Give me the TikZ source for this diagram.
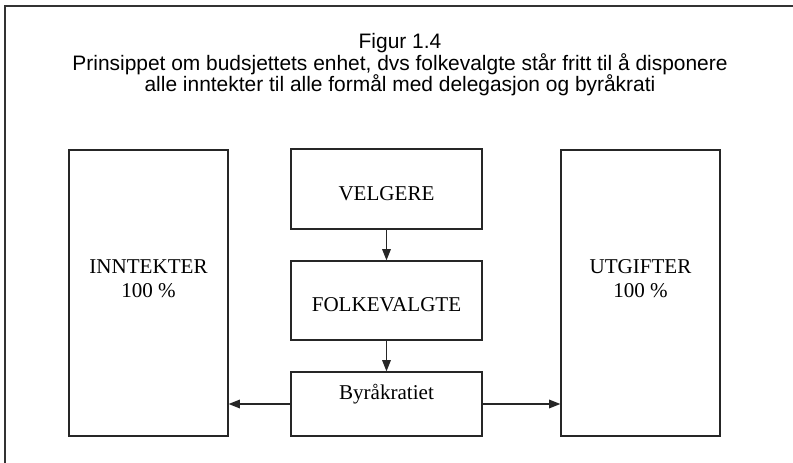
\documentclass[tikz,border=0pt]{standalone}
\usepackage{fontspec}
\setmainfont{Liberation Serif}
\newfontfamily\titlefont{Liberation Sans}
\usetikzlibrary{arrows.meta}
\begin{document}
\begin{tikzpicture}[x=0.75pt,y=-0.75pt,
  frame/.style={draw=black!80,line width=0.9pt},
  block/.style={draw=black!85,line width=0.9pt,inner sep=0pt,fill=none},
  label/.style={anchor=base,inner sep=0pt,font=\fontsize{15.8pt}{19pt}\selectfont},
  heading/.style={anchor=base,inner sep=0pt,font=\titlefont\fontsize{15.7pt}{18pt}\selectfont},
  flow/.style={draw=black!85,line width=0.9pt,-{Triangle[length=8.5pt,width=6.5pt]}}]
\useasboundingbox (0,0) rectangle (793,463);

% outer frame (top and left edges)
\draw[frame] (5,470) -- (5,6) -- (800,6);

% heading
\node[heading] (t1) at (400,49) {Figur 1.4};
\node[heading] (t2) at (400,71) {Prinsippet om budsjettets enhet, dvs folkevalgte står fritt til å disponere};
\node[heading] (t3) at (400,92) {alle inntekter til alle formål med delegasjon og byråkrati};

% side blocks
\node[block,minimum width=119.25pt,minimum height=214.5pt] (inn) at (148.5,293) {};
\node[block,minimum width=119.25pt,minimum height=214.5pt] (utg) at (640.5,293) {};

% centre column
\node[block,minimum width=143.25pt,minimum height=60pt] (velg) at (386.5,189) {};
\node[block,minimum width=143.25pt,minimum height=59.25pt] (folk) at (386.5,300.5) {};
\node[block,minimum width=143.25pt,minimum height=48pt] (byr) at (386.5,404) {};

% block texts
\node[label] (innA) at (148.5,274) {INNTEKTER};
\node[label] (innB) at (148.5,298) {100 \%};
\node[label] (utgA) at (640.5,274) {UTGIFTER};
\node[label] (utgB) at (640.5,298) {100 \%};
\node[label] (velgT) at (386.5,201) {VELGERE};
\node[label] (folkT) at (386.5,312) {FOLKEVALGTE};
\node[label] (byrT) at (386.5,400) {Byråkratiet};

% connectors
\draw[flow] (velg.south) -- (folk.north);
\draw[flow] (folk.south) -- (byr.north);
\draw[flow] (byr.west) -- (inn.east |- byr.west);
\draw[flow] (byr.east) -- (utg.west |- byr.east);
\end{tikzpicture}
\end{document}
